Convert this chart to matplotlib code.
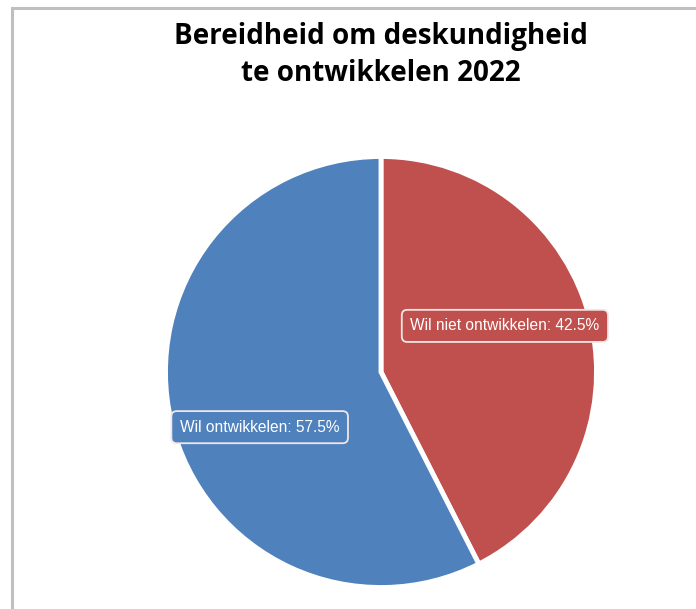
import matplotlib
matplotlib.use("Agg")
import matplotlib.pyplot as plt
from matplotlib.patches import Rectangle

# Data
categories = ["Wil niet ontwikkelen", "Wil ontwikkelen"]
percentages = [42.5, 57.5]
colors = ["#C0504D", "#4F81BD"]
title = "Bereidheid om deskundigheid\nte ontwikkelen 2022"

# Label positions (data coords, pie radius = 1)
label_pos = [(0.575, 0.214), (-0.563, -0.256)]

W, H = 696, 609
fig = plt.figure(figsize=(W / 100, H / 100), dpi=100)
fig.patch.set_facecolor("white")

# Grey chart border (runs off right and bottom)
fig.patches.append(Rectangle((11.5 / W, -0.1), 1.2, 1 - 7.5 / H + 0.1,
                             transform=fig.transFigure, fill=False,
                             edgecolor="#BFBFBF", linewidth=2.2))

cx, cy, r = 381, 372, 215.5
ax = fig.add_axes([(cx - r) / W, (H - cy - r) / H, 2 * r / W, 2 * r / H])
ax.pie(percentages, colors=colors, startangle=90, counterclock=False,
       radius=1, wedgeprops=dict(edgecolor="white", linewidth=3.5))
ax.set_xlim(-1.0, 1.0)
ax.set_ylim(-1.0, 1.0)
ax.set_aspect("equal")
ax.axis("off")

for cat, pct, col, (x, y) in zip(categories, percentages, colors, label_pos):
    ax.text(x, y, f"{cat}: {pct:.1f}%", ha="center", va="center",
            fontsize=11.2, color="white", family="Liberation Sans",
            bbox=dict(boxstyle="round,pad=0.55,rounding_size=0.35",
                      facecolor=col, edgecolor="#F2E6E6", linewidth=1.3))

fig.text(381 / W, 1 - 55 / H, title, ha="center", va="center",
         fontsize=20, fontweight="bold", family="Open Sans",
         linespacing=1.35, color="black")

fig.savefig("out.png", dpi=100)
